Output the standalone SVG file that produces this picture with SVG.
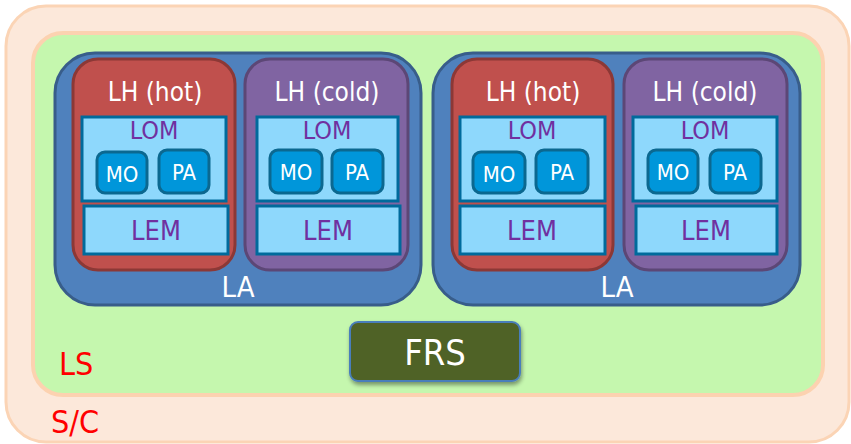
<svg xmlns="http://www.w3.org/2000/svg" width="851" height="444" viewBox="0 0 851 444">
  <defs>
    <style>
      text { font-family: "DejaVu Sans Condensed", "DejaVu Sans", Verdana, sans-serif; text-anchor: middle; }
      .sc { fill: #FCE8DA; stroke: #FBD4B5; stroke-width: 3; }
      .ls { fill: #C5F7AE; stroke: #FCD2B0; stroke-width: 4; }
      .la { fill: #4F81BD; stroke: #385D8A; stroke-width: 3; }
      .hot { fill: #C0504D; stroke: #8C3836; stroke-width: 3; }
      .cold { fill: #8064A2; stroke: #5C4776; stroke-width: 3; }
      .lom { fill: #8ED8FC; stroke: #006A9C; stroke-width: 3; }
      .unit { fill: #0096DA; stroke: #0B6890; stroke-width: 3; }
      .frs { fill: #4F6228; stroke: #4A7EBB; stroke-width: 2; }
      .white { fill: #FFFFFF; }
      .purple { fill: #7030A0; }
      .red { fill: #FF0000; text-anchor: start; }
    </style>
    <filter id="shadow" x="-10%" y="-10%" width="130%" height="140%">
      <feGaussianBlur in="SourceAlpha" stdDeviation="2"/>
      <feOffset dx="1" dy="3"/>
      <feComponentTransfer><feFuncA type="linear" slope="0.4"/></feComponentTransfer>
      <feMerge><feMergeNode/><feMergeNode in="SourceGraphic"/></feMerge>
    </filter>
  </defs>

  <g id="sc">
    <rect class="sc" x="6" y="6" width="843" height="436" rx="40"/>
    <text class="red" x="51" y="433" font-size="32">S/C</text>
  </g>

  <g id="ls">
    <rect class="ls" x="33" y="33" width="790" height="362" rx="30"/>
    <text class="red" x="59" y="375" font-size="32">LS</text>
  </g>

  <!-- left assembly -->
  <g id="la1">
    <rect class="la" x="55" y="53" width="366" height="252" rx="40"/>
    <text class="white" x="238" y="297" font-size="29">LA</text>
  </g>
  <g id="lh-hot-1">
    <rect class="hot" x="73" y="59" width="162" height="211" rx="25"/>
    <text class="white" x="155" y="101" font-size="26">LH (hot)</text>
    <g id="lom-hot-1">
      <rect class="lom" x="82" y="117" width="144" height="84"/>
      <text class="purple" x="154" y="139" font-size="25">LOM</text>
      <g id="mo-hot-1">
        <rect class="unit" x="97" y="152" width="50" height="41" rx="8"/>
        <text class="white" x="122" y="182" font-size="22">MO</text>
      </g>
      <g id="pa-hot-1">
        <rect class="unit" x="159" y="150" width="50" height="43" rx="8"/>
        <text class="white" x="184" y="180" font-size="22">PA</text>
      </g>
    </g>
    <g id="lem-hot-1">
      <rect class="lom" x="84" y="206" width="144" height="48"/>
      <text class="purple" x="156" y="240" font-size="27">LEM</text>
    </g>
  </g>
  <g id="lh-cold-1">
    <rect class="cold" x="245" y="59" width="163" height="211" rx="25"/>
    <text class="white" x="327" y="101" font-size="26">LH (cold)</text>
    <g id="lom-cold-1">
      <rect class="lom" x="257" y="117" width="141" height="84"/>
      <text class="purple" x="327" y="139" font-size="25">LOM</text>
      <g id="mo-cold-1">
        <rect class="unit" x="270" y="150" width="52" height="43" rx="8"/>
        <text class="white" x="296" y="180" font-size="22">MO</text>
      </g>
      <g id="pa-cold-1">
        <rect class="unit" x="332" y="150" width="51" height="43" rx="8"/>
        <text class="white" x="357" y="180" font-size="22">PA</text>
      </g>
    </g>
    <g id="lem-cold-1">
      <rect class="lom" x="257" y="206" width="143" height="48"/>
      <text class="purple" x="328" y="240" font-size="27">LEM</text>
    </g>
  </g>

  <!-- right assembly -->
  <g id="la2">
    <rect class="la" x="433" y="53" width="367" height="252" rx="40"/>
    <text class="white" x="617" y="297" font-size="29">LA</text>
  </g>
  <g id="lh-hot-2">
    <rect class="hot" x="452" y="59" width="161" height="211" rx="25"/>
    <text class="white" x="533" y="101" font-size="26">LH (hot)</text>
    <g id="lom-hot-2">
      <rect class="lom" x="460" y="117" width="145" height="84"/>
      <text class="purple" x="532" y="139" font-size="25">LOM</text>
      <g id="mo-hot-2">
        <rect class="unit" x="473" y="152" width="52" height="41" rx="8"/>
        <text class="white" x="499" y="182" font-size="22">MO</text>
      </g>
      <g id="pa-hot-2">
        <rect class="unit" x="536" y="150" width="52" height="43" rx="8"/>
        <text class="white" x="562" y="180" font-size="22">PA</text>
      </g>
    </g>
    <g id="lem-hot-2">
      <rect class="lom" x="460" y="206" width="145" height="48"/>
      <text class="purple" x="532" y="240" font-size="27">LEM</text>
    </g>
  </g>
  <g id="lh-cold-2">
    <rect class="cold" x="624" y="59" width="163" height="211" rx="25"/>
    <text class="white" x="705" y="101" font-size="26">LH (cold)</text>
    <g id="lom-cold-2">
      <rect class="lom" x="633" y="117" width="144" height="84"/>
      <text class="purple" x="705" y="139" font-size="25">LOM</text>
      <g id="mo-cold-2">
        <rect class="unit" x="648" y="150" width="50" height="43" rx="8"/>
        <text class="white" x="673" y="180" font-size="22">MO</text>
      </g>
      <g id="pa-cold-2">
        <rect class="unit" x="710" y="150" width="51" height="43" rx="8"/>
        <text class="white" x="735" y="180" font-size="22">PA</text>
      </g>
    </g>
    <g id="lem-cold-2">
      <rect class="lom" x="636" y="206" width="141" height="48"/>
      <text class="purple" x="706" y="240" font-size="27">LEM</text>
    </g>
  </g>

  <g id="frs">
    <rect class="frs" x="350" y="322" width="170" height="59" rx="8" filter="url(#shadow)"/>
    <text class="white" x="435" y="365" font-size="36">FRS</text>
  </g>

  <g id="connectors"/>
</svg>
